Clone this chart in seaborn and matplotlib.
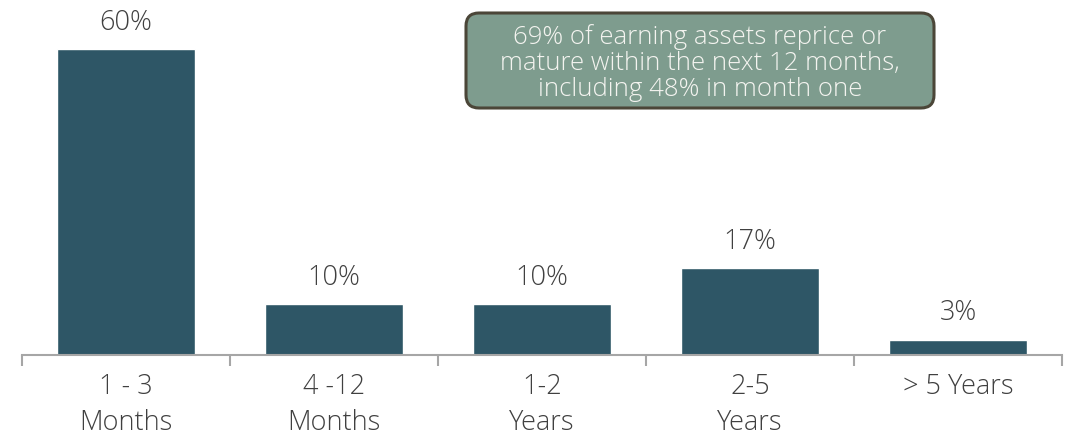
import matplotlib
matplotlib.use("Agg")
import matplotlib.pyplot as plt
from matplotlib.patches import FancyBboxPatch
import seaborn as sns
import pandas as pd

# chart data
buckets = ["1 - 3\nMonths", "4 -12\nMonths", "1-2\nYears", "2-5\nYears", "> 5 Years"]
shares = [60, 10, 10, 17, 3]
callout = "69% of earning assets reprice or\nmature within the next 12 months,\nincluding 48% in month one"

bar_color = "#2E5666"
text_color = "#404040"
axis_color = "#A6A6A6"

sns.set_style("white")
plt.rcParams["font.family"] = ["Open Sans", "DejaVu Sans"]

df = pd.DataFrame({"bucket": buckets, "share": shares})

fig = plt.figure(figsize=(10.69, 4.36), dpi=100)
ax = fig.add_axes([22 / 1069, 81 / 436, 1040 / 1069, 355 / 436])

sns.barplot(data=df, x="bucket", y="share", color=bar_color, width=0.665,
            saturation=1, ax=ax)

ax.set_xlim(-0.5, len(buckets) - 0.5)
ax.set_ylim(0, 69.6)

for i, v in enumerate(shares):
    ax.text(i, v + 2.4, f"{v}%", ha="center", va="bottom", fontsize=19.5,
            color=text_color, fontweight="light")

# axes styling
for side in ["top", "right", "left"]:
    ax.spines[side].set_visible(False)
ax.spines["bottom"].set_color(axis_color)
ax.spines["bottom"].set_linewidth(1.5)
ax.set_yticks([])
ax.set_xlabel("")
ax.set_ylabel("")
ax.tick_params(axis="x", which="major", length=0, pad=13, labelsize=19.5,
               labelcolor=text_color)
for lbl in ax.get_xticklabels():
    lbl.set_linespacing(1.38)
    lbl.set_fontweight("light")
ax.set_xticks([i - 0.5 for i in range(len(buckets) + 1)], minor=True)
ax.tick_params(axis="x", which="minor", bottom=True, length=8, width=1.5,
               color=axis_color)

# callout box drawn in pixel space
over = fig.add_axes([0, 0, 1, 1], facecolor="none")
over.set_xlim(0, 1069)
over.set_ylim(436, 0)
over.axis("off")
box = FancyBboxPatch((466, 13), 468, 95, boxstyle="round,pad=0,rounding_size=13",
                     facecolor="#7E9C8E", edgecolor="#4B4638", linewidth=2.2)
over.add_patch(box)
over.text(700, 63, callout, ha="center", va="center", fontsize=18.5,
          color="#F4F4F0", linespacing=1.04, fontweight="light")

fig.savefig("out.png", dpi=100)
